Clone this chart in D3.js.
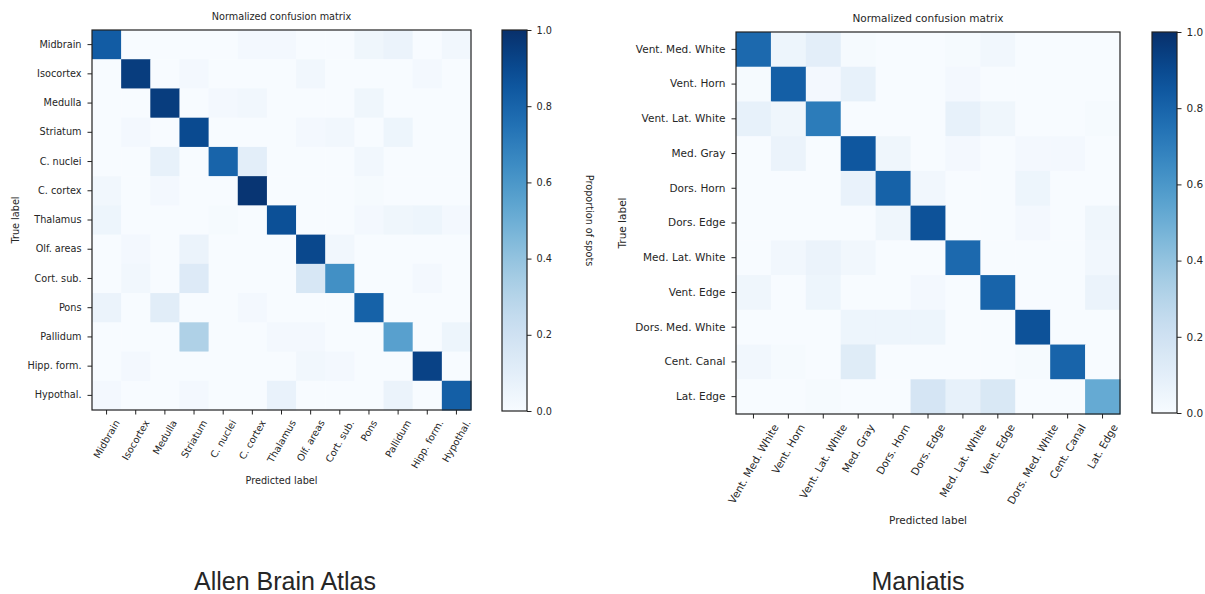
<!DOCTYPE html>
<html>
<head>
<meta charset="utf-8">
<script src="https://cdn.jsdelivr.net/npm/d3@7"></script>
<style>
  body { margin: 0; background: #fff; }
  svg { display: block; }
  text { fill: #262626; }
</style>
</head>
<body>
<svg id="chart" width="1205" height="594"></svg>
<script>
// Class names for the Allen Brain Atlas panel.
var allenLabels = ['Midbrain', 'Isocortex', 'Medulla', 'Striatum', 'C. nuclei',
  'C. cortex', 'Thalamus', 'Olf. areas', 'Cort. sub.', 'Pons', 'Pallidum',
  'Hipp. form.', 'Hypothal.'];

// Row = true label, column = predicted label.
var allenMatrix = [
  [0.83, 0.00, 0.00, 0.00, 0.00, 0.02, 0.02, 0.00, 0.00, 0.04, 0.06, 0.00, 0.03],
  [0.00, 0.95, 0.00, 0.02, 0.00, 0.00, 0.00, 0.03, 0.00, 0.00, 0.00, 0.02, 0.00],
  [0.00, 0.00, 0.95, 0.00, 0.02, 0.03, 0.00, 0.00, 0.00, 0.04, 0.00, 0.00, 0.00],
  [0.00, 0.02, 0.00, 0.90, 0.00, 0.00, 0.00, 0.02, 0.03, 0.00, 0.05, 0.00, 0.00],
  [0.00, 0.00, 0.08, 0.00, 0.80, 0.10, 0.00, 0.00, 0.00, 0.03, 0.00, 0.00, 0.00],
  [0.03, 0.00, 0.02, 0.00, 0.00, 0.98, 0.00, 0.00, 0.00, 0.01, 0.00, 0.00, 0.00],
  [0.05, 0.00, 0.00, 0.00, 0.01, 0.00, 0.88, 0.00, 0.00, 0.02, 0.04, 0.05, 0.02],
  [0.00, 0.02, 0.00, 0.06, 0.00, 0.00, 0.00, 0.91, 0.03, 0.00, 0.00, 0.00, 0.00],
  [0.00, 0.03, 0.00, 0.13, 0.00, 0.00, 0.00, 0.16, 0.63, 0.00, 0.00, 0.02, 0.00],
  [0.06, 0.00, 0.11, 0.00, 0.00, 0.02, 0.00, 0.00, 0.00, 0.81, 0.00, 0.00, 0.00],
  [0.00, 0.00, 0.00, 0.32, 0.00, 0.00, 0.02, 0.02, 0.00, 0.00, 0.56, 0.00, 0.05],
  [0.00, 0.02, 0.00, 0.00, 0.00, 0.00, 0.00, 0.03, 0.02, 0.00, 0.00, 0.93, 0.00],
  [0.02, 0.00, 0.00, 0.02, 0.00, 0.00, 0.07, 0.00, 0.00, 0.00, 0.06, 0.00, 0.82]
];

// Class names for the Maniatis panel.
var maniatisLabels = ['Vent. Med. White', 'Vent. Horn', 'Vent. Lat. White',
  'Med. Gray', 'Dors. Horn', 'Dors. Edge', 'Med. Lat. White', 'Vent. Edge',
  'Dors. Med. White', 'Cent. Canal', 'Lat. Edge'];

var maniatisMatrix = [
  [0.78, 0.05, 0.10, 0.01, 0.00, 0.00, 0.01, 0.03, 0.00, 0.00, 0.00],
  [0.01, 0.82, 0.02, 0.08, 0.00, 0.00, 0.02, 0.00, 0.00, 0.00, 0.00],
  [0.08, 0.04, 0.71, 0.00, 0.00, 0.00, 0.08, 0.04, 0.00, 0.00, 0.01],
  [0.00, 0.06, 0.00, 0.85, 0.04, 0.00, 0.02, 0.00, 0.02, 0.02, 0.00],
  [0.00, 0.00, 0.00, 0.07, 0.81, 0.03, 0.00, 0.00, 0.05, 0.00, 0.00],
  [0.00, 0.00, 0.00, 0.00, 0.04, 0.87, 0.00, 0.00, 0.02, 0.00, 0.04],
  [0.00, 0.03, 0.06, 0.03, 0.00, 0.00, 0.78, 0.00, 0.00, 0.00, 0.03],
  [0.04, 0.00, 0.05, 0.00, 0.00, 0.02, 0.00, 0.80, 0.00, 0.00, 0.06],
  [0.00, 0.00, 0.00, 0.05, 0.05, 0.05, 0.00, 0.00, 0.87, 0.00, 0.00],
  [0.03, 0.01, 0.00, 0.12, 0.00, 0.00, 0.00, 0.00, 0.01, 0.80, 0.00],
  [0.00, 0.00, 0.01, 0.00, 0.00, 0.17, 0.08, 0.15, 0.00, 0.00, 0.52]
];

// Colorbar tick values.
var colorbarTicks = [0, 0.2, 0.4, 0.6, 0.8, 1.0];

var svg = d3.select('#chart');
var color = d3.scaleSequential(d3.interpolateBlues).domain([0, 1]);
var FONT = 'DejaVu Sans, sans-serif';

// One gradient is enough for both colorbars (bottom = 0, top = 1).
var grad = svg.append('defs').append('linearGradient')
  .attr('id', 'blues').attr('x1', 0).attr('y1', 1).attr('x2', 0).attr('y2', 0);
d3.range(0, 1.0001, 0.05).forEach(function(t) {
  grad.append('stop').attr('offset', t).attr('stop-color', color(t));
});

/**
 * Draw one confusion matrix panel with its colorbar.
 * @param p Object panel layout and data.
 */
function drawPanel(p) {
  var g = svg.append('g').style('font-family', FONT).style('font-size', p.fs + 'px');

  var x = d3.scaleBand().domain(p.labels).range([p.left, p.left + p.w]);
  var y = d3.scaleBand().domain(p.labels).range([p.top, p.top + p.h]);

  // Cells.
  var cells = [];
  p.matrix.forEach(function(row, i) {
    row.forEach(function(v, j) {
      cells.push({ t: p.labels[i], pr: p.labels[j], v: v });
    });
  });
  g.append('g').selectAll('rect').data(cells).enter().append('rect')
    .attr('x', function(d) { return x(d.pr); })
    .attr('y', function(d) { return y(d.t); })
    .attr('width', x.bandwidth() + 0.5)
    .attr('height', y.bandwidth() + 0.5)
    .attr('fill', function(d) { return color(d.v); });

  // Frame.
  g.append('rect').attr('x', p.left).attr('y', p.top).attr('width', p.w).attr('height', p.h)
    .attr('fill', 'none').attr('stroke', '#222').attr('stroke-width', 1.2);

  // Y axis.
  var ya = g.append('g').attr('transform', 'translate(' + p.left + ',0)')
    .call(d3.axisLeft(y).tickSize(4.5).tickPadding(6));
  ya.select('.domain').remove();
  ya.selectAll('line').attr('stroke', '#222');
  ya.selectAll('text').attr('fill', '#262626').style('font-size', p.fs + 'px').attr('font-family', FONT);

  // X axis with labels rotated 60 degrees, centred under each tick.
  var xa = g.append('g').attr('transform', 'translate(0,' + (p.top + p.h) + ')')
    .call(d3.axisBottom(x).tickSize(4.5).tickPadding(0));
  xa.select('.domain').remove();
  xa.selectAll('line').attr('stroke', '#222');
  var sin = Math.sin(Math.PI / 3), cos = Math.cos(Math.PI / 3);
  xa.selectAll('text')
    .attr('fill', '#262626').style('font-size', p.fs + 'px').attr('font-family', FONT)
    .attr('text-anchor', 'middle').attr('y', 0).attr('dy', '0.35em')
    .attr('transform', function() {
      var w = this.getComputedTextLength();
      var h = p.fs * 1.15;
      return 'translate(0,' + (8 + (w * sin + h * cos) / 2) + ') rotate(-60)';
    });

  // Titles.
  g.append('text').attr('x', p.left + p.w / 2).attr('y', p.titleY)
    .attr('text-anchor', 'middle').text('Normalized confusion matrix');
  g.append('text').attr('x', p.left + p.w / 2).attr('y', p.xlabelY)
    .attr('text-anchor', 'middle').attr('dy', '0.35em').text('Predicted label');
  g.append('text').attr('transform', 'translate(' + p.ylabelX + ',' + (p.top + p.h / 2) + ') rotate(-90)')
    .attr('text-anchor', 'middle').attr('dy', '0.35em').text('True label');

  // Colorbar.
  var cb = p.cb;
  g.append('rect').attr('x', cb.x).attr('y', cb.top).attr('width', cb.w).attr('height', cb.h)
    .attr('fill', 'url(#blues)').attr('stroke', '#222').attr('stroke-width', 1.2);
  var cy = d3.scaleLinear().domain([0, 1]).range([cb.top + cb.h, cb.top]);
  var ca = g.append('g').attr('transform', 'translate(' + (cb.x + cb.w) + ',0)')
    .call(d3.axisRight(cy).tickValues(colorbarTicks).tickFormat(d3.format('.1f'))
      .tickSize(4.5).tickPadding(5));
  ca.select('.domain').remove();
  ca.selectAll('line').attr('stroke', '#222');
  ca.selectAll('text').attr('fill', '#262626').style('font-size', p.fs + 'px').attr('font-family', FONT);

  if (cb.label) {
    g.append('text').attr('transform', 'translate(' + cb.labelX + ',' + (cb.top + cb.h / 2) + ') rotate(90)')
      .attr('text-anchor', 'middle').attr('dy', '0.35em').text(cb.label);
  }

  // Caption under the panel.
  svg.append('text').attr('x', p.captionX).attr('y', 590)
    .attr('text-anchor', 'middle')
    .style('font-family', 'Liberation Sans, Arial, sans-serif').style('font-size', '25px')
    .attr('fill', '#111').text(p.caption);
}

drawPanel({
  labels: allenLabels, matrix: allenMatrix, fs: 9.7,
  left: 92, top: 30, w: 379, h: 380,
  titleY: 20, xlabelY: 481, ylabelX: 16,
  cb: { x: 502, top: 30, w: 25, h: 381, label: 'Proportion of spots', labelX: 589 },
  caption: 'Allen Brain Atlas', captionX: 285
});

drawPanel({
  labels: maniatisLabels, matrix: maniatisMatrix, fs: 10.5,
  left: 736, top: 32, w: 384, h: 382,
  titleY: 22, xlabelY: 520, ylabelX: 622,
  cb: { x: 1152, top: 32, w: 25, h: 381, label: null },
  caption: 'Maniatis', captionX: 918
});
</script>
</body>
</html>
